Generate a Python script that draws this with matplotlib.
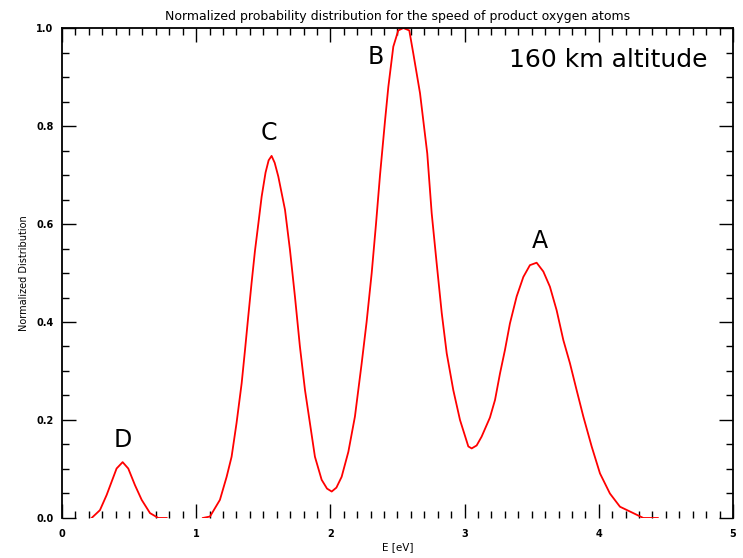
import numpy as np
import matplotlib
matplotlib.use("Agg")
import matplotlib.pyplot as plt
from matplotlib.ticker import MultipleLocator

# energy [eV] and normalized distribution
# (nan separates the pieces that are not drawn)
energy = [0.221, 0.283, 0.333, 0.370, 0.407, 0.452, 0.494, 0.544, 0.594, 0.656, 0.718, 0.78,
          np.nan,
          1.05, 1.103, 1.177, 1.227, 1.264, 1.301, 1.339, 1.364, 1.388, 1.413, 1.438, 1.463,
          1.488, 1.517, 1.540, 1.562, 1.585, 1.612, 1.662, 1.699, 1.736, 1.773, 1.811, 1.848,
          1.885, 1.935, 1.975, 2.010, 2.045, 2.084, 2.134, 2.183, 2.233, 2.270, 2.308, 2.340,
          2.370, 2.407, 2.432, 2.469, 2.506, 2.544, 2.588, 2.618, 2.668, 2.722, 2.755, 2.792,
          2.830, 2.867, 2.916, 2.966, 3.028, 3.053, 3.090, 3.127, 3.189, 3.227, 3.264, 3.301,
          3.338, 3.388, 3.438, 3.487, 3.537, 3.587, 3.636, 3.686, 3.736, 3.785, 3.835, 3.885,
          3.947, 4.009, 4.083, 4.158, 4.257, 4.332, 4.44]
dist = [0.0, 0.016, 0.047, 0.074, 0.101, 0.114, 0.101, 0.067, 0.037, 0.010, 0.0, 0.0,
        np.nan,
        0.0, 0.003, 0.037, 0.084, 0.125, 0.194, 0.275, 0.343, 0.411, 0.480, 0.545, 0.600,
        0.656, 0.705, 0.730, 0.739, 0.725, 0.697, 0.629, 0.547, 0.452, 0.350, 0.261, 0.193,
        0.125, 0.078, 0.060, 0.054, 0.062, 0.084, 0.135, 0.207, 0.315, 0.400, 0.500, 0.600,
        0.700, 0.810, 0.880, 0.962, 0.995, 1.0, 0.995, 0.948, 0.867, 0.744, 0.622, 0.520,
        0.418, 0.336, 0.261, 0.200, 0.146, 0.142, 0.148, 0.166, 0.205, 0.241, 0.295, 0.343,
        0.397, 0.452, 0.492, 0.516, 0.521, 0.503, 0.472, 0.424, 0.363, 0.316, 0.261, 0.207,
        0.146, 0.091, 0.050, 0.023, 0.010, 0.0, 0.0]

peak_names = ["D", "C", "B", "A"]
peak_pos = [(0.45, 0.16), (1.54, 0.785), (2.34, 0.94), (3.56, 0.565)]

fig = plt.figure(figsize=(7.43, 5.58), dpi=100)
ax = fig.add_axes([0.0834, 0.0717, 0.9031, 0.8781])

ax.plot(energy, dist, color="red", lw=1.3)

ax.set_xlim(0, 5)
ax.set_ylim(0, 1.0)
ax.xaxis.set_major_locator(MultipleLocator(1))
ax.xaxis.set_minor_locator(MultipleLocator(0.1))
ax.yaxis.set_major_locator(MultipleLocator(0.2))
ax.yaxis.set_minor_locator(MultipleLocator(0.05))
ax.xaxis.set_major_formatter(plt.FuncFormatter(lambda v, p: "%d" % v))
ax.yaxis.set_major_formatter(plt.FuncFormatter(lambda v, p: "%.1f" % v))

ax.tick_params(which="both", direction="in", top=True, right=True, width=1.0,
               labelsize=7, colors="black")
ax.tick_params(which="major", length=10)
ax.tick_params(which="minor", length=5)
ax.tick_params(axis="x", pad=8)
ax.tick_params(axis="y", pad=6)
for lab in ax.get_xticklabels() + ax.get_yticklabels():
    lab.set_fontweight("bold")
ax.spines["bottom"].set_visible(False)
for s in ["top", "left", "right"]:
    ax.spines[s].set_linewidth(1.3)

ax.set_title("Normalized probability distribution for the speed of product oxygen atoms",
             fontsize=9, pad=6)
ax.set_xlabel("E [eV]", fontsize=7.5, labelpad=2)
ax.set_ylabel("Normalized Distribution", fontsize=7, labelpad=5)

for name, (x, y) in zip(peak_names, peak_pos):
    ax.text(x, y, name, fontsize=17, ha="center", va="center")
ax.text(0.962, 0.935, "160 km altitude", transform=ax.transAxes,
        fontsize=18, ha="right", va="center")

fig.savefig("out.png", dpi=100)
